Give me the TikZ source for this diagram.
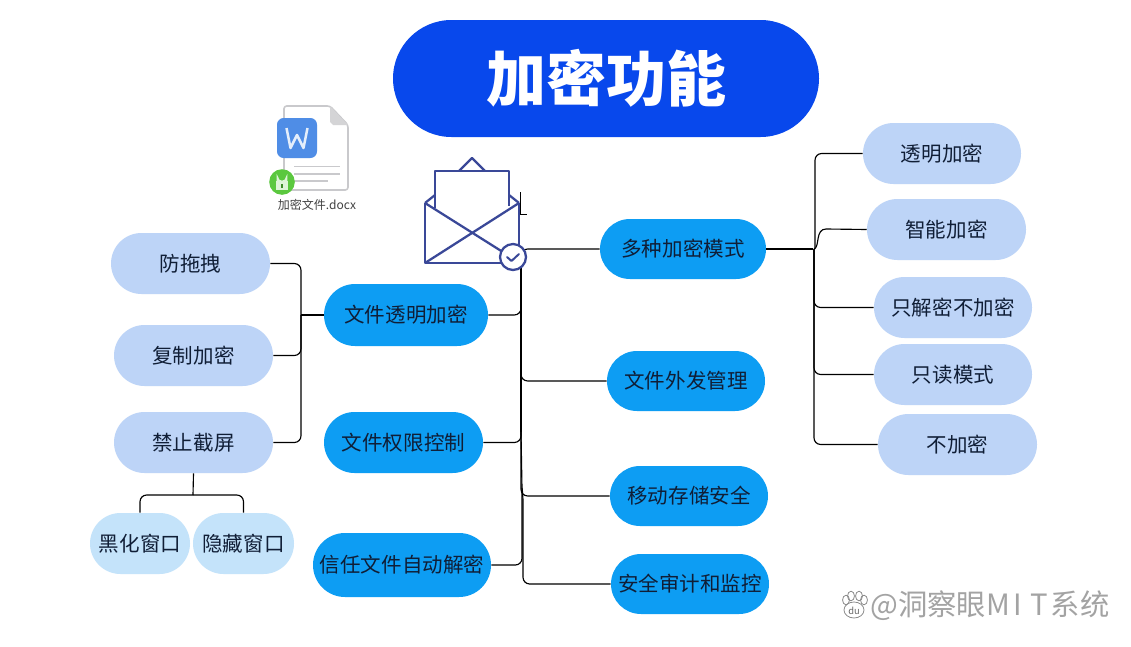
\documentclass[tikz,border=0pt]{standalone}
\usepackage{fontspec}
\setmainfont{Noto Sans CJK SC}
\usetikzlibrary{shapes.misc}
\definecolor{titleblue}{HTML}{0848EC}
\definecolor{pillblue}{HTML}{0D9DF3}
\definecolor{leafblue}{HTML}{BDD4F7}
\definecolor{subleaf}{HTML}{C4E3FA}
\definecolor{inkdark}{HTML}{101E36}
\definecolor{envblue}{HTML}{3A4898}
\definecolor{wordblue}{HTML}{4F8DE6}
\definecolor{lockgreen}{HTML}{5BC83F}
\definecolor{pagegrey}{HTML}{C9C9CC}
\tikzset{
  pill/.style={rounded rectangle,rounded rectangle arc length=180,inner sep=0pt,text=inkdark,font=\fontsize{15.4}{15.4}\selectfont},
  mainpill/.style={pill,fill=pillblue},
  leafpill/.style={pill,fill=leafblue},
  subpill/.style={pill,fill=subleaf},
  conn/.style={draw=black,line width=0.85pt,rounded corners=5pt},
  envline/.style={draw=envblue,line width=1.7pt,line join=round},
}
\newcommand{\pillat}[8]{% style,name,x0,x1,y0,y1,text
  \node[#1,minimum width=#4*0.75pt-#3*0.75pt,minimum height=#6*0.75pt-#5*0.75pt] (#2) at ({(#3+#4)/2},{(#5+#6)/2}) {#7};}
\begin{document}
\begin{tikzpicture}[x=0.75pt,y=-0.75pt]
\useasboundingbox (0,0) rectangle (1131,646);
\fill[white] (0,0) rectangle (1131,646);
% nodes
\node[rounded rectangle,rounded rectangle arc length=180,fill=titleblue,text=white,minimum width=319.5pt,minimum height=87.75pt,inner sep=0pt,font=\fontsize{45}{45}\selectfont\bfseries] (title) at (606,78.5) {加密功能};
\pillat{mainpill}{duozhong}{600}{766}{219}{279}{多种加密模式}{}
\pillat{mainpill}{toumingM}{324}{488}{284}{346}{文件透明加密}{}
\pillat{mainpill}{quanxian}{324}{483}{412}{473}{文件权限控制}{}
\pillat{mainpill}{xinren}{313}{491}{533}{597}{信任文件自动解密}{}
\pillat{mainpill}{waifa}{607}{765}{351}{411}{文件外发管理}{}
\pillat{mainpill}{yidong}{610}{768}{466}{526}{移动存储安全}{}
\pillat{mainpill}{shenji}{611}{769}{554}{614}{安全审计和监控}{}
\pillat{leafpill}{touming}{863}{1021}{123}{184}{透明加密}{}
\pillat{leafpill}{zhineng}{867}{1026}{199}{260}{智能加密}{}
\pillat{leafpill}{zhijie}{874}{1032}{277}{338}{只解密不加密}{}
\pillat{leafpill}{zhidu}{874}{1032}{344}{405}{只读模式}{}
\pillat{leafpill}{bujia}{878}{1037}{414}{475}{不加密}{}
\pillat{leafpill}{fang}{111}{270}{233}{294}{防拖拽}{}
\pillat{leafpill}{fuzhi}{114}{273}{325}{386}{复制加密}{}
\pillat{leafpill}{jinzhi}{114}{273}{412}{473}{禁止截屏}{}
\pillat{subpill}{heihua}{90}{190}{513}{574}{黑化窗口}{}
\pillat{subpill}{yincang}{193}{294}{513}{574}{隐藏窗口}{}
% hubs
\coordinate (hubR) at (813,249);
\coordinate (hubL) at (301,315);
\coordinate (hubB) at (193,495);
\coordinate (trunkTop) at (521,268);
\coordinate (trunkMid) at (521,432);
\coordinate (trunkLow) at (522,488);
% right side
\draw[conn,line width=1.2pt] (duozhong.east) -- (hubR);
\draw[conn] (815,249) |- (touming.west);
\draw[black,line width=0.85pt] (814,249) .. controls (820,247) and (815,229) .. (826,229) -- (zhineng.west);
\draw[conn] (814,249) |- (zhijie.west);
\draw[conn] (814,249) |- (zhidu.west);
\draw[conn] (814,249) |- (bujia.west);
% centre trunk
\draw[conn] (521,270) |- (duozhong.west);
\draw[conn,line width=1.4pt] (521,265) -- (trunkTop);
\draw[conn] (trunkTop) |- (toumingM.east);
\draw[conn] (trunkTop) |- (waifa.west);
\draw[conn] (trunkTop) -- (trunkMid);
\draw[conn] (trunkMid) |- (quanxian.east);
\draw[conn] (trunkMid) |- (yidong.west);
\draw[conn] (trunkMid) -- (trunkLow);
\draw[conn] (trunkLow) |- (xinren.east);
\draw[conn] (trunkLow) -- (523,495) |- (shenji.west);
% left side
\draw[conn] (toumingM.west) -- (hubL);
\draw[conn] (hubL) |- (fang.east);
\draw[conn] (hubL) |- (fuzhi.east);
\draw[conn] (hubL) |- (jinzhi.east);
\draw[conn] (jinzhi.south) -- (hubB);
\draw[conn] (hubB) -| (heihua.north);
\draw[conn] (hubB) -| (yincang.north);
% stray stub beside envelope
\draw[black,line width=0.6pt] (520,192) -- (520,214) -- (527,214);
% envelope
\draw[envline] (459,171) -- (472,158) -- (485,171);
\draw[envline] (425,203) -- (435,195);
\draw[envline] (519,203) -- (509,195);
\draw[envline] (435,208) -- (435,171) -- (509,171) -- (509,206);
\draw[envline] (425,203) -- (425,263) -- (519,263) -- (519,203);
\draw[envline] (425,203) -- (506,254);
\draw[envline] (519,203) -- (425,263);
\node[circle,draw=envblue,line width=1.7pt,fill=white,minimum size=19.5pt,inner sep=0pt] (checkmark) at (513,257) {};
\draw[envblue,line width=1.5pt,line cap=round,line join=round] (507,257) -- (511.5,261) -- (519,254);
% document icon
\draw[pagegrey,line width=1.2pt,fill=white,line join=round,rounded corners=2pt] (284,106) -- (330,106) -- (348,125) -- (348,190) -- (284,190) -- cycle;
\fill[pagegrey!80] (330,106) -- (348,125) -- (333,125) -- (330,122) -- cycle;
\draw[pagegrey,line width=1pt] (294,166.5) -- (340,166.5) (294,174) -- (340,174) (294,181) -- (328,181);
\fill[wordblue,rounded corners=5pt] (277,118) rectangle (317,158);
\draw[white!85!wordblue,line width=1.9pt,line join=round] (286.5,128) -- (290.5,148) -- (297,135) -- (303.5,148) -- (307.5,128);
\fill[lockgreen] (282,182) circle (9.6pt);
\draw[white!80!lockgreen,line width=1.2pt] (277.5,181) -- (277.5,177.5) arc (180:0:4.5 and 4) -- (286.5,181);
\fill[white!80!lockgreen] (276,181) rectangle (288,190);
\fill[lockgreen!70!black] (281,184) rectangle (283,188);
\node[text=black!75,inner sep=0pt,font=\fontsize{9}{9}\selectfont] (doclabel) at (317,205) {加密文件.docx};
% watermark
\begin{scope}[draw=black!45,line width=0.6pt]
\draw (854,610) ellipse (7.5pt and 6pt);
\draw (846,600) ellipse (2.6pt and 3.6pt);
\draw (851,596) ellipse (2.6pt and 3.6pt);
\draw (859,596) ellipse (2.6pt and 3.6pt);
\draw (864,600) ellipse (2.6pt and 3.6pt);
\end{scope}
\node[text=black!60,inner sep=0pt,font=\fontsize{7}{7}\selectfont] (wmdu) at (854,611) {du};
\node[text=black!36,inner sep=0pt,anchor=west,font=\fontsize{22}{22}\selectfont] (wmark) at (870,606) {@洞察眼M\hspace{3pt}I\hspace{6pt}T\hspace{2pt}系统};
\end{tikzpicture}
\end{document}
